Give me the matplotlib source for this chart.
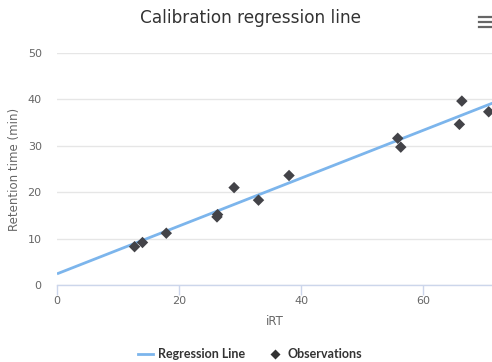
import matplotlib
matplotlib.use("Agg")
import matplotlib.pyplot as plt
from matplotlib.lines import Line2D

plt.rcParams['font.family'] = ['DejaVu Sans']

# Observed peptides: iRT value vs measured retention time (min)
obs_irt = [12.7, 14.0, 17.9, 26.2, 26.3, 29.0, 33.0, 38.0, 55.8, 56.3, 65.9, 66.3, 70.7]
obs_rt = [8.3, 9.2, 11.2, 14.7, 15.2, 21.0, 18.3, 23.6, 31.6, 29.7, 34.6, 39.6, 37.3]

# Fitted calibration line endpoints
line_irt = [0.0, 71.4]
line_rt = [2.46, 39.2]

x_ticks = [0, 20, 40, 60]
y_ticks = [0, 10, 20, 30, 40, 50]

W, H = 492, 362
fig = plt.figure(figsize=(W / 100, H / 100), dpi=100)
ax = fig.add_axes([57 / W, 1 - 285.3 / H, (W - 57) / W + 0.002, (285.3 - 52.7) / H])

ax.plot(line_irt, line_rt, color='#7cb5ec', lw=2, solid_capstyle='butt', zorder=3)
ax.scatter(obs_irt, obs_rt, marker='D', s=34, color='#434348', edgecolors='none', zorder=4)

ax.set_xlim(0, 71.4)
ax.set_ylim(0, 50)
ax.set_xticks(x_ticks)
ax.set_yticks(y_ticks)

for s in ['top', 'right', 'left']:
    ax.spines[s].set_visible(False)
ax.spines['bottom'].set_color('#ccd6eb')
ax.spines['bottom'].set_linewidth(1)

ax.yaxis.grid(True, color='#e6e6e6', lw=1)
ax.set_axisbelow(True)
ax.tick_params(axis='y', length=0, pad=11, labelsize=8, labelcolor='#666666')
ax.tick_params(axis='x', length=7, width=1, color='#ccd6eb', pad=1, labelsize=8, labelcolor='#666666')

ax.set_xlabel('iRT', fontsize=8.5, color='#666666', labelpad=6)
ax.set_ylabel('Retention time (min)', fontsize=8.5, color='#666666')
ax.yaxis.set_label_coords(-36 / (W - 57), 0.5)

fig.text(250 / W, 1 - 18 / H, 'Calibration regression line', ha='center', va='center',
         fontsize=12.2, color='#333333')

# Context menu icon
for yy in [16.5, 21.5, 26.5]:
    fig.add_artist(Line2D([479 / W, 492 / W], [1 - yy / H, 1 - yy / H],
                          color='#666666', lw=1.6, transform=fig.transFigure))

# Legend
ly = 1 - 354 / H
fig.add_artist(Line2D([138 / W, 153 / W], [ly, ly], color='#7cb5ec', lw=2, transform=fig.transFigure))
fig.text(158 / W, ly, 'Regression Line', ha='left', va='center', fontsize=9,
         fontweight='bold', color='#333333', family=['Lato', 'DejaVu Sans'])
fig.add_artist(Line2D([275 / W], [ly], marker='D', markersize=5, color='#333333',
                      markeredgecolor='none', lw=0, transform=fig.transFigure))
fig.text(288 / W, ly, 'Observations', ha='left', va='center', fontsize=9,
         fontweight='bold', color='#333333', family=['Lato', 'DejaVu Sans'])

fig.savefig('out.png', dpi=100)
